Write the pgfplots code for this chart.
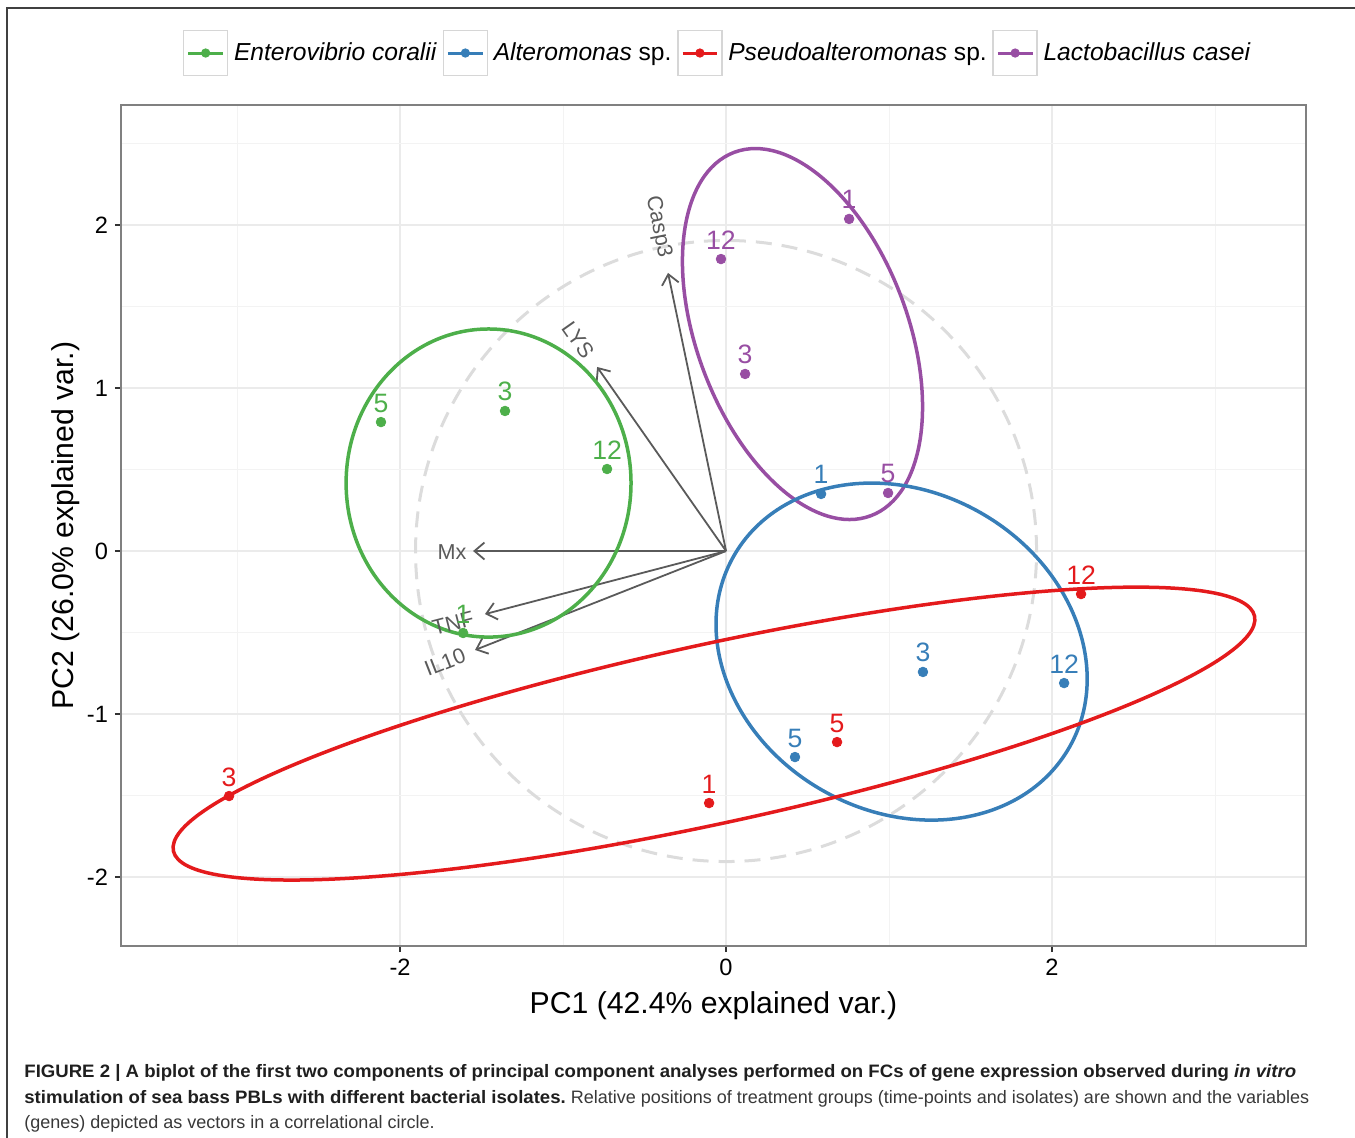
\documentclass[border=0pt]{standalone}
\usepackage{pgfplots}
\pgfplotsset{compat=1.18}
\usepackage{fontspec}
\setmainfont{Liberation Sans}
\usetikzlibrary{arrows.meta}
\definecolor{cgreen}{HTML}{4DAF4A}
\definecolor{cblue}{HTML}{377EB8}
\definecolor{cred}{HTML}{E41A1C}
\definecolor{cpurple}{HTML}{984EA3}
\definecolor{arrowgray}{HTML}{5A5A5A}
\definecolor{gridmaj}{HTML}{EBEBEB}
\definecolor{gridmin}{HTML}{F3F3F3}
\definecolor{circgray}{HTML}{DCDCDC}
\definecolor{keybox}{HTML}{D6D6D6}
\newcommand{\keyimg}[1]{\addlegendimage{legend image code/.code={%
  \draw[draw=keybox, line width=0.8pt, fill=white] (0pt,-11.3pt) rectangle (22pt,11.3pt);
  \draw[#1, line width=1.5pt] (2.3pt,0pt) -- (19.7pt,0pt);
  \fill[#1] (11pt,0pt) circle (2.1pt);}}}
\begin{document}
\begin{tikzpicture}
\useasboundingbox (0,0) rectangle (677.5pt,-569pt);
\draw[line width=0.8pt, black!75] (3.5pt,-570pt) -- (3.5pt,-4pt) -- (678pt,-4pt);
\begin{axis}[
  at={(60.5pt,-473pt)}, anchor=south west,
  scale only axis, width=592.5pt, height=420.5pt,
  xmin=-3.712, xmax=3.558, ymin=-2.423, ymax=2.736,
  xtick={-2,0,2}, ytick={-2,-1,0,1,2},
  minor xtick={-3,-1,1,3}, minor ytick={-1.5,-0.5,0.5,1.5,2.5},
  grid=both,
  major grid style={draw=gridmaj, line width=0.75pt},
  minor grid style={draw=gridmin, line width=0.5pt},
  tick align=outside, major tick length=3pt, minor tick length=0pt,
  xtick pos=bottom, ytick pos=left,
  major tick style={black!80, line width=0.7pt},
  axis line style={draw=black!50, line width=0.75pt},
  ticklabel style={font=\fontsize{11.8}{12}\selectfont, text=black},
  /pgf/number format/assume math mode=true,
  xlabel={PC1 (42.4\% explained var.)},
  ylabel={PC2 (26.0\% explained var.)},
  label style={font=\fontsize{15.1}{16}\selectfont},
  xlabel style={at={(axis description cs:0.5,-0.0705)}, anchor=center},
  ylabel style={at={(axis description cs:-0.0465,0.5)}, anchor=center},
  legend columns=4,
  legend style={at={(axis description cs:0.5051,1.0618)}, anchor=center,
    draw=none, fill=none, font=\fontsize{12.3}{13}\selectfont,
    column sep=0pt, nodes={inner xsep=2.8pt, inner ysep=0pt}},
  legend cell align=left,
  clip=false,
]
\keyimg{cgreen}\addlegendentry{\textit{Enterovibrio coralii}}
\keyimg{cblue}\addlegendentry{\textit{Alteromonas} sp.}
\keyimg{cred}\addlegendentry{\textit{Pseudoalteromonas} sp.}
\keyimg{cpurple}\addlegendentry{\textit{Lactobacillus casei}}

% correlation circle
\draw[circgray, line width=1.5pt, dash pattern=on 8pt off 5pt] (axis cs:0,0) circle [radius=1.905];

% variable vectors
\addplot[arrowgray, line width=0.9pt, -{Straight Barb[length=5pt,width=8.5pt]}] coordinates {(0,0) (-0.356,1.706)};
\addplot[arrowgray, line width=0.9pt, -{Straight Barb[length=5pt,width=8.5pt]}] coordinates {(0,0) (-0.791,1.129)};
\addplot[arrowgray, line width=0.9pt, -{Straight Barb[length=5pt,width=8.5pt]}] coordinates {(0,0) (-1.552,0.000)};
\addplot[arrowgray, line width=0.9pt, -{Straight Barb[length=5pt,width=8.5pt]}] coordinates {(0,0) (-1.479,-0.387)};
\addplot[arrowgray, line width=0.9pt, -{Straight Barb[length=5pt,width=8.5pt]}] coordinates {(0,0) (-1.540,-0.607)};

% ellipses
\draw[cgreen, line width=1.75pt] (axis cs:-1.457,0.417) ellipse [x radius=0.874, y radius=0.945];
\draw[cpurple, line width=1.75pt, rotate around={-69.4:(axis cs:0.469,1.331)}] (axis cs:0.469,1.331) ellipse [x radius=1.191, y radius=0.647];
\draw[cblue, line width=1.75pt, rotate around={-29.6:(axis cs:1.077,-0.617)}] (axis cs:1.077,-0.617) ellipse [x radius=1.185, y radius=0.980];
\draw[cred, line width=1.75pt, rotate around={12.26:(axis cs:-0.074,-1.120)}] (axis cs:-0.074,-1.120) ellipse [x radius=3.394, y radius=0.549];

% points
\pgfplotsset{ptstyle/.style={only marks, mark=*, mark size=2.4pt, color=#1,
  mark options={draw=#1, fill=#1},
  point meta=explicit symbolic, nodes near coords,
  nodes near coords style={font=\fontsize{13.3}{13.3}\selectfont, anchor=base, inner sep=0pt, yshift=5pt, text=#1}}}
\addplot[ptstyle=cgreen] coordinates {(-2.117,0.791) [5] (-1.356,0.859) [3] (-0.730,0.503) [12] (-1.613,-0.503) [1]};
\addplot[ptstyle=cblue] coordinates {(0.583,0.350) [1] (1.208,-0.742) [3] (2.074,-0.810) [12] (0.423,-1.264) [5]};
\addplot[ptstyle=cred] coordinates {(2.178,-0.264) [12] (0.681,-1.172) [5] (-0.104,-1.546) [1] (-3.049,-1.503) [3]};
\addplot[ptstyle=cpurple] coordinates {(0.755,2.037) [1] (-0.031,1.791) [12] (0.117,1.086) [3] (0.994,0.356) [5]};

% vector labels
\node[text=arrowgray, font=\fontsize{10.8}{11}\selectfont, rotate=-78.6, inner sep=0pt] at (axis cs:-0.417,1.988) {Casp3};
\node[text=arrowgray, font=\fontsize{10.8}{11}\selectfont, rotate=-54.9, inner sep=0pt] at (axis cs:-0.908,1.294) {LYS};
\node[text=arrowgray, font=\fontsize{10.8}{11}\selectfont, inner sep=0pt] at (axis cs:-1.681,-0.006) {Mx};
\node[text=arrowgray, font=\fontsize{10.8}{11}\selectfont, rotate=14.5, inner sep=0pt] at (axis cs:-1.675,-0.442) {TNF};
\node[text=arrowgray, font=\fontsize{10.8}{11}\selectfont, rotate=21.4, inner sep=0pt] at (axis cs:-1.724,-0.681) {IL10};
\end{axis}

% caption
\node[anchor=base west, inner sep=0pt, font=\fontsize{9}{10}\selectfont, text=black!88] at (12pt,-538.5pt)
  {\scalebox{1.033}[1]{\textbf{FIGURE 2 | A biplot of the first two components of principal component analyses performed on FCs of gene expression observed during \textit{in vitro}}}};
\node[anchor=base west, inner sep=0pt, font=\fontsize{9}{10}\selectfont, text=black!88] at (12pt,-551.5pt)
  {\scalebox{1.033}[1]{\textbf{stimulation of sea bass PBLs with different bacterial isolates.}} \textcolor{black!78}{Relative positions of treatment groups (time-points and isolates) are shown and the variables}};
\node[anchor=base west, inner sep=0pt, font=\fontsize{9}{10}\selectfont, text=black!78] at (12pt,-564pt)
  {(genes) depicted as vectors in a correlational circle.};
\end{tikzpicture}
\end{document}
